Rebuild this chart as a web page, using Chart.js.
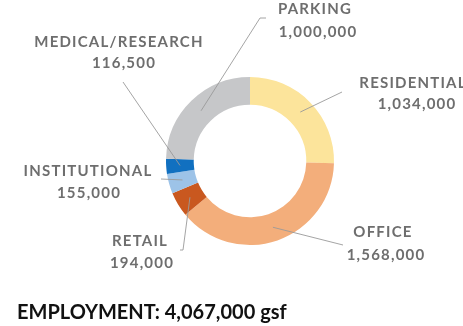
<!DOCTYPE html>
<html>
<head>
<meta charset="utf-8">
<script src="https://cdn.jsdelivr.net/npm/chart.js@4/dist/chart.umd.min.js"></script>
<style>
  html, body { margin: 0; padding: 0; background: #fff; }
  #wrap { width: 463px; height: 326px; position: relative; }
</style>
</head>
<body>
<div id="wrap"><canvas id="c" width="463" height="326"></canvas></div>
<script>
// Floor area by use (gsf)
const categories = ['RESIDENTIAL', 'OFFICE', 'RETAIL', 'INSTITUTIONAL', 'MEDICAL/RESEARCH', 'PARKING'];
const areas = [1034000, 1568000, 194000, 155000, 116500, 1000000];
const areaLabels = ['1,034,000', '1,568,000', '194,000', '155,000', '116,500', '1,000,000'];
const colors = ['#FCE49B', '#F3AE7B', '#C9581F', '#9DC3E8', '#1170C0', '#C6C7C9'];
const totalText = 'EMPLOYMENT: 4,067,000 gsf';

// Label placement around the ring, relative to the ring centre:
// name position, value position, leader end, optional leader tail.
const callouts = [
  { name: [163, -78], value: [167, -57], end: [92, -69] },
  { name: [133, 71],  value: [136, 94],  end: [93, 84] },
  { name: [-110, 80], value: [-108, 102], end: [-67, 89], tail: [-70, 89] },
  { name: [-162, 10], value: [-161, 32], end: [-89, 18] },
  { name: [-131, -119], value: [-126, -98], end: [-127, -79] },
  { name: [65, -152], value: [68, -129], end: [10, -143], tail: [16, -143] }
];

const calloutPlugin = {
  id: 'callouts',
  afterDatasetsDraw(chart) {
    const ctx = chart.ctx;
    const arcs = chart.getDatasetMeta(0).data;
    ctx.save();
    arcs.forEach((arc, i) => {
      const cx = arc.x, cy = arc.y;
      const p = arc.getCenterPoint();
      const c = callouts[i];
      ctx.strokeStyle = '#9a9a9a';
      ctx.lineWidth = 0.9;
      ctx.beginPath();
      ctx.moveTo(p.x, p.y);
      ctx.lineTo(cx + c.end[0], cy + c.end[1]);
      if (c.tail) ctx.lineTo(cx + c.tail[0], cy + c.tail[1]);
      ctx.stroke();
      ctx.fillStyle = '#6E6E6E';
      ctx.textAlign = 'center';
      ctx.textBaseline = 'middle';
      ctx.font = 'bold 15px Lato';
      ctx.letterSpacing = '1.2px';
      ctx.fillText(categories[i], cx + c.name[0], cy + c.name[1]);
      ctx.fillText(areaLabels[i], cx + c.value[0], cy + c.value[1]);
    });
    // total line below the ring
    ctx.letterSpacing = '0px';
    ctx.fillStyle = '#111';
    ctx.textAlign = 'left';
    ctx.textBaseline = 'alphabetic';
    ctx.font = 'bold 20px Lato';
    ctx.fillText(totalText, 17, 319);
    ctx.restore();
  }
};

new Chart(document.getElementById('c'), {
  type: 'doughnut',
  data: {
    labels: categories,
    datasets: [{
      data: areas,
      backgroundColor: colors,
      borderWidth: 0
    }]
  },
  options: {
    responsive: false,
    animation: false,
    cutout: '67%',
    layout: { padding: { left: 166, right: 129, top: 77, bottom: 81 } },
    plugins: {
      legend: { display: false },
      tooltip: { enabled: false }
    }
  },
  plugins: [calloutPlugin]
});
</script>
</body>
</html>
